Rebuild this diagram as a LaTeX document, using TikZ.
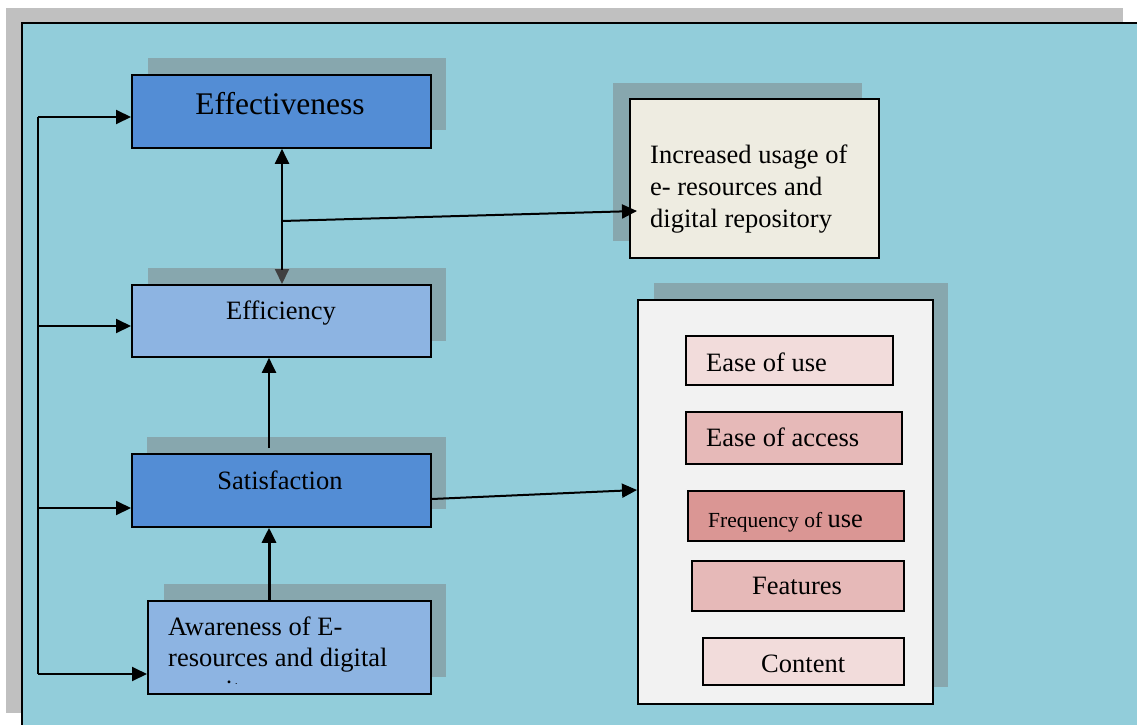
\documentclass[tikz,border=0pt]{standalone}
\usepackage{fontspec}
\setmainfont{Liberation Serif}
\usetikzlibrary{arrows.meta}

\definecolor{pagegrey}{HTML}{C0C0C0}
\definecolor{panel}{HTML}{92CDDA}
\definecolor{shade}{HTML}{87A7AE}
\definecolor{darkblue}{HTML}{538DD5}
\definecolor{lightblue}{HTML}{8DB4E2}
\definecolor{cream}{HTML}{EEECE1}
\definecolor{paper}{HTML}{F2F2F2}
\definecolor{pinkA}{HTML}{F2DCDB}
\definecolor{pinkB}{HTML}{E6B9B8}
\definecolor{pinkC}{HTML}{DA9694}
\definecolor{headgrey}{HTML}{404040}

\tikzset{
  box/.style={draw=black, line width=1.8pt, inner sep=0pt, anchor=north west},
  shadowbox/.style={fill=shade, draw=none},
  lbl/.style={inner sep=0pt, font=\fontsize{26.5}{31}\selectfont, anchor=base},
  lblw/.style={lbl, anchor=base west},
  arr/.style={line width=2pt, -{Triangle[length=15pt,width=14pt]}},
}

\begin{document}
\begin{tikzpicture}[x=1pt,y=-1pt]
\useasboundingbox (0,0) rectangle (1137,725);
\clip (0,0) rectangle (1137,725);

% page and panel
\fill[pagegrey] (6,8) rectangle (1123,713);
\fill[panel] (22,23) rectangle (1150,740);
\draw[line width=2pt] (22,740) -- (22,23) -- (1150,23);

% drop shadows
\fill[shadowbox] (148,58) rectangle (446,130);
\fill[shadowbox] (148,268) rectangle (446,341);
\fill[shadowbox] (147,437) rectangle (446,509);
\fill[shadowbox] (164,584) rectangle (446,677);
\fill[shadowbox] (613,83) rectangle (862,241);
\fill[shadowbox] (654,283) rectangle (948,687);

% main chain
\node[box, fill=darkblue, minimum width=299pt, minimum height=73pt] (eff) at (131,74) {};
\node[lbl, font=\fontsize{31.5}{36}\selectfont] (efft) at (280,114) {Effectiveness};

\node[box, fill=lightblue, minimum width=299pt, minimum height=72pt] (effi) at (131,284) {};
\node[lbl] (effit) at (281,319) {Efficiency};

\node[box, fill=darkblue, minimum width=299pt, minimum height=73pt] (sat) at (131,453) {};
\node[lbl] (satt) at (280,489) {Satisfaction};

\node[box, fill=lightblue, minimum width=283pt, minimum height=93pt] (aw) at (147,600) {};
\begin{scope}
  \clip (147,600) rectangle (430,683);
  \node[lblw] (awt1) at (168,635) {Awareness of E-};
  \node[lblw] (awt2) at (168,666) {resources and digital};
  \node[lblw] (awt3) at (168,698.5) {repository};
\end{scope}

% outcome box
\node[box, fill=cream, minimum width=249pt, minimum height=159pt] (inc) at (629,98) {};
\node[lblw] (inct1) at (650,163) {Increased usage of};
\node[lblw] (inct2) at (650,195) {e- resources and};
\node[lblw] (inct3) at (650,227) {digital repository};

% factors box
\node[box, fill=paper, minimum width=295pt, minimum height=404pt] (big) at (637,299) {};
\node[box, fill=pinkA, minimum width=207pt, minimum height=49pt] (f1) at (685,335) {};
\node[lblw] (f1t) at (706,371) {Ease of use};
\node[box, fill=pinkB, minimum width=216pt, minimum height=52pt] (f2) at (685,411) {};
\node[lblw] (f2t) at (706,446) {Ease of access};
\node[box, fill=pinkC, minimum width=216pt, minimum height=50pt] (f3) at (687,490) {};
\node[lblw] (f3t) at (708,527) {\fontsize{21.5}{26}\selectfont Frequency of \fontsize{26.5}{31}\selectfont use};
\node[box, fill=pinkB, minimum width=212pt, minimum height=50pt] (f4) at (691,560) {};
\node[lblw] (f4t) at (752,594) {Features};
\node[box, fill=pinkA, minimum width=201pt, minimum height=47pt] (f5) at (702,637) {};
\node[lblw] (f5t) at (761,672) {Content};

% left trunk feeding every stage
\coordinate (t1) at (38,117);
\coordinate (t2) at (38,326);
\coordinate (t3) at (38,508);
\coordinate (t4) at (38,674);
\draw[line width=2pt] (t1) -- (t4);
\draw[arr] (t1) -- (t1 -| eff.west);
\draw[arr] (t2) -- (t2 -| effi.west);
\draw[arr] (t3) -- (t3 -| sat.west);
\draw[arr] (t4) -- (t4 -| aw.west);

% effectiveness <-> efficiency, branching to the outcome
\coordinate (m) at (282,221);
\coordinate (inctip) at (637,211);
\draw[arr] (m) -- (m |- eff.south);
\draw[line width=2pt, -{Triangle[length=15pt,width=14pt]}, headgrey] (m) -- (m |- effi.north);
\draw[line width=2pt, black] (m) -- (282,270);
\draw[arr] (m) -- (inctip);

% upward flow
\coordinate (s1) at (269,448);
\draw[arr] (s1) -- (s1 |- effi.south);
\draw[line width=3pt, -{Triangle[length=15pt,width=14pt]}] (aw.north -| s1) -- (s1 |- sat.south);

% satisfaction -> factors
\draw[arr] (sat.east |- 0,499) -- (big.west |- 0,490);
\end{tikzpicture}
\end{document}
